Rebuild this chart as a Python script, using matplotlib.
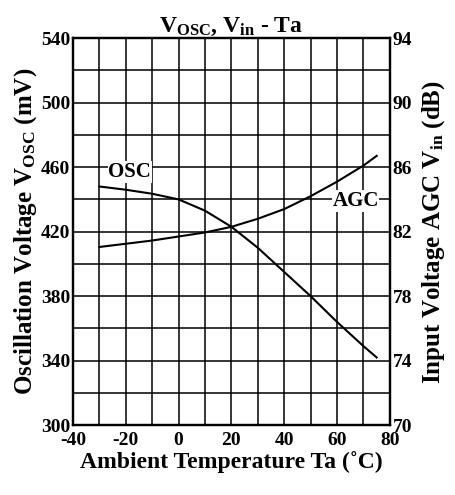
import numpy as np
import matplotlib
matplotlib.use("Agg")
import matplotlib.pyplot as plt

# ---------------------------------------------------------------------------
# Data
# ---------------------------------------------------------------------------
ta       = [-30, -20, -10, 0, 10, 20, 30, 40, 50, 60, 70, 75]
osc_mv   = [448, 446, 443.5, 440, 433, 423, 410, 395, 380, 364, 349, 342]
agc_db   = [81.05, 81.25, 81.45, 81.7, 81.95, 82.3, 82.8, 83.4, 84.2, 85.1, 86.1, 86.7]

X_TICKS  = [-40, -20, 0, 20, 40, 60, 80]
YL_TICKS = [300, 340, 380, 420, 460, 500, 540]
YR_TICKS = [70, 74, 78, 82, 86, 90, 94]

plt.rcParams["font.family"] = "Liberation Serif"
plt.rcParams["font.weight"] = "bold"
plt.rcParams["mathtext.fontset"] = "custom"
plt.rcParams["mathtext.rm"] = "Liberation Serif:bold"
plt.rcParams["mathtext.it"] = "Liberation Serif:bold"
plt.rcParams["mathtext.bf"] = "Liberation Serif:bold"

fig = plt.figure(figsize=(4.56, 4.95), dpi=100)
ax = fig.add_axes([0.160, 0.141, 0.695, 0.782])
ax2 = ax.twinx()

# grid
for xv in np.arange(-40, 81, 10):
    ax.axvline(xv, color="k", lw=1.1, zorder=1)
for yv in np.arange(300, 541, 20):
    ax.axhline(yv, color="k", lw=1.1, zorder=1)

ax.plot(ta, osc_mv, color="k", lw=1.5, zorder=3)
ax2.plot(ta, agc_db, color="k", lw=1.5, zorder=3)

ax.set_xlim(-40, 80)
ax.set_ylim(300, 540)
ax2.set_ylim(70, 94)

ax.set_xticks(X_TICKS)
ax.set_yticks(YL_TICKS)
ax2.set_yticks(YR_TICKS)
ax.tick_params(axis="x", length=0, labelsize=14, pad=5)
ax.tick_params(axis="y", length=0, labelsize=14, pad=2)
ax2.tick_params(length=0, labelsize=14, pad=2)
ax.set_xticklabels([str(v) for v in X_TICKS], fontweight="bold")
ax.set_yticklabels([str(v) for v in YL_TICKS], fontweight="bold")
ax2.set_yticklabels([str(v) for v in YR_TICKS], fontweight="bold")

for a in (ax, ax2):
    for sp in a.spines.values():
        sp.set_linewidth(1.6)

ax.text(-18.5, 457, "OSC", fontsize=15, fontweight="bold", ha="center", va="center",
        bbox=dict(facecolor="white", edgecolor="none", pad=0.5), zorder=4)
ax.text(67, 439, "AGC", fontsize=15, fontweight="bold", ha="center", va="center",
        bbox=dict(facecolor="white", edgecolor="none", pad=0.5), zorder=4)

ax.set_title(r"V$_{\rm OSC}$, V$_{\rm in}$ - Ta", fontsize=17, fontweight="bold", pad=3)
ax.set_xlabel("Ambient Temperature Ta (˚C)", fontsize=17, fontweight="bold", labelpad=1)
ax.set_ylabel(r"Oscillation Voltage V$_{\rm OSC}$ (mV)", fontsize=18, fontweight="bold", labelpad=1)
ax2.set_ylabel(r"Input Voltage AGC V$_{\rm in}$ (dB)", fontsize=18, fontweight="bold", labelpad=6)

fig.savefig("out.png", dpi=100)
